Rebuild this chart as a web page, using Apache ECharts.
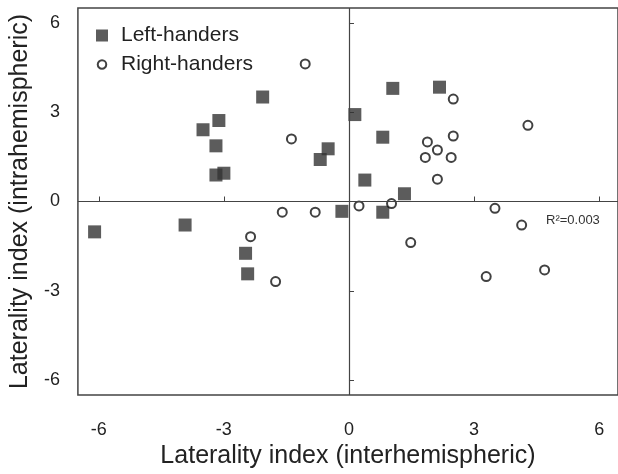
<!DOCTYPE html>
<html>
<head>
<meta charset="utf-8">
<script src="https://cdn.jsdelivr.net/npm/echarts@6/dist/echarts.min.js"></script>
<style>
  html, body { margin: 0; padding: 0; background: #fff; }
  #main { width: 618px; height: 474px; }
</style>
</head>
<body>
<div id="main"></div>
<script>
// data: [interhemispheric, intrahemispheric]
var leftHanders = [
    [-6.1, -1.02], [-3.93, -0.79], [-3.5, 2.41], [-3.12, 2.72], [-3.19, 1.87],
    [-3.19, 0.89], [-3.0, 0.95], [-2.07, 3.51], [-2.48, -1.74], [-2.43, -2.43],
    [-0.5, 1.77], [-0.69, 1.41], [0.14, 2.92], [1.05, 3.8], [2.17, 3.84],
    [0.81, 2.16], [0.38, 0.72], [1.33, 0.26], [-0.17, -0.33], [0.81, -0.36]
];
var rightHanders = [
    [-1.05, 4.62], [-1.38, 2.1], [2.5, 3.44], [4.29, 2.56], [2.5, 2.2],
    [1.88, 2.0], [2.12, 1.73], [1.83, 1.48], [2.45, 1.48], [2.12, 0.75],
    [0.24, -0.15], [1.02, -0.07], [-0.81, -0.36], [-1.6, -0.36], [-2.36, -1.18],
    [-1.76, -2.69], [3.5, -0.23], [4.14, -0.79], [1.48, -1.38], [3.29, -2.52],
    [4.69, -2.3]
];
var tickValues = [-6, -3, 0, 3, 6];
var seriesNames = ['Left-handers', 'Right-handers'];
var r2Label = 'R\u00b2=0.003';

var dom = document.getElementById('main');
var myChart = echarts.init(dom);

var font = 'Liberation Sans';
var txt = '#222';
var option = {
    animation: false,
    textStyle: { fontFamily: font, color: txt },
    grid: {
        left: 75, top: 8, width: 545, height: 394,
        show: true, borderColor: '#444', borderWidth: 1.5
    },
    legend: {
        orient: 'vertical',
        left: 90, top: 20,
        itemWidth: 12, itemHeight: 12,
        itemGap: 8,
        textStyle: { fontSize: 21, color: txt, fontFamily: font, padding: [0, 0, 0, 8] },
        data: [
            { name: seriesNames[0], icon: 'rect' },
            {
                name: seriesNames[1],
                // ring inside a 24x24 box so the legend circle matches the plotted one
                icon: 'path://M0,0M24,24M12,3.5a8.5,8.5 0 1,0 0.001,0z',
                itemStyle: { color: '#fff', borderColor: '#111', borderWidth: 2 }
            }
        ]
    },
    xAxis: {
        type: 'value',
        min: -6.5, max: 6.45,
        name: 'Laterality index (interhemispheric)',
        nameLocation: 'middle',
        nameGap: 49,
        nameTextStyle: { fontSize: 25, color: txt, fontFamily: font },
        axisLine: { show: false },
        axisTick: { show: true, inside: true, length: 5, customValues: tickValues, lineStyle: { color: '#444' } },
        axisLabel: { customValues: tickValues, fontSize: 18, color: txt, margin: 26 },
        splitLine: { show: false }
    },
    yAxis: {
        type: 'value',
        min: -6.5, max: 6.5,
        name: 'Laterality index (intrahemispheric)',
        nameLocation: 'middle',
        nameGap: 42,
        nameTextStyle: { fontSize: 25, color: txt, fontFamily: font },
        axisLine: { show: false },
        axisTick: { show: true, inside: true, length: 5, customValues: tickValues, lineStyle: { color: '#444' } },
        axisLabel: { customValues: tickValues, fontSize: 18, color: txt, margin: 18 },
        splitLine: { show: false }
    },
    graphic: [{
        type: 'text',
        left: 546, top: 214,
        style: { text: r2Label, fill: '#333', font: '13px "Liberation Sans"' }
    }],
    series: [
        {
            name: seriesNames[0],
            type: 'scatter',
            symbol: 'rect',
            symbolSize: 13,
            itemStyle: { color: '#333333' },
            data: leftHanders,
            markLine: {
                silent: true,
                symbol: 'none',
                label: { show: false },
                lineStyle: { color: '#444', width: 1.2, type: 'solid' },
                data: [{ xAxis: 0 }, { yAxis: 0 }]
            },
            z: 3
        },
        {
            name: seriesNames[1],
            type: 'scatter',
            symbol: 'circle',
            symbolSize: 9,
            itemStyle: { color: '#ffffff', borderColor: '#111', borderWidth: 2 },
            data: rightHanders,
            z: 4
        }
    ]
};

myChart.setOption(option);
</script>
</body>
</html>
